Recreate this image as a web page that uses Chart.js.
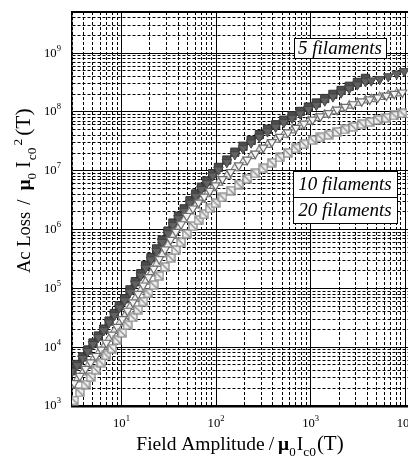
<!DOCTYPE html>
<html lang="en">
<head>
<meta charset="UTF-8" />
<title>Ac Loss vs Field Amplitude</title>
<script src="https://cdn.jsdelivr.net/npm/chart.js"></script>
<style>
  html, body { margin: 0; padding: 0; background: #fff; }
  canvas { display: block; }
</style>
</head>
<body>
<canvas id="lossChart" width="408" height="457"></canvas>
<script>
  // 5 filaments: field amplitude (squares use the first part, triangles run to the end)
  const field5 = [3.0, 3.4, 3.9, 4.4, 5.0, 5.7, 6.5, 7.4, 8.4, 9.5, 10.8, 12.3, 14, 16, 18, 20.5, 23.5, 27, 31, 35,
    40, 46, 53, 61, 70, 80, 92, 106, 130, 158, 193, 235, 287, 350, 427, 521, 636, 776, 946, 1150,
    1410, 1720, 2100, 2560, 3120, 3800, 4370, 5370, 6610, 8130, 9770];
  const loss5Sq = [3.98e3, 5.09e3, 6.84e3, 8.97e3, 1.18e4, 1.55e4, 2.03e4, 2.78e4, 3.74e4, 5.05e4, 6.68e4, 9.44e4,
    1.30e5, 1.78e5, 2.43e5, 3.33e5, 4.69e5, 6.64e5, 9.42e5, 1.29e6, 1.69e6, 2.25e6, 3.09e6, 4.03e6, 5.26e6, 6.71e6,
    8.95e6, 1.14e7, 1.52e7, 2.07e7, 2.61e7, 3.28e7, 4.11e7, 5.06e7, 6.05e7, 7.24e7, 8.59e7, 1.02e8, 1.21e8, 1.42e8,
    1.69e8, 1.99e8, 2.32e8, 2.73e8, 3.18e8, 3.72e8];
  const loss5Tri = [3.9e3, 4.9e3, 6.5e3, 8.5e3, 1.12e4, 1.47e4, 1.92e4, 2.62e4, 3.5e4, 4.7e4, 6.2e4, 8.7e4, 1.2e5,
    1.64e5, 2.24e5, 3.06e5, 4.3e5, 6.1e5, 8.6e5, 1.18e6, 1.55e6, 2.06e6, 2.83e6, 3.7e6, 4.82e6, 6.15e6, 8.2e6,
    1.04e7, 1.39e7, 1.89e7, 2.39e7, 3.0e7, 3.76e7, 4.63e7, 5.54e7, 6.63e7, 7.86e7, 9.33e7, 1.11e8, 1.3e8, 1.55e8,
    1.82e8, 2.12e8, 2.5e8, 2.91e8, 3.3e8, 3.4e8, 3.6e8, 4.0e8, 4.45e8, 4.9e8];
  // 10 filaments, second marker set (up triangles) read at the field5 steps
  const loss10Up = [2.24e3, 2.82e3, 3.72e3, 4.79e3, 6.17e3, 7.94e3, 1.02e4, 1.39e4, 1.88e4, 2.53e4, 3.37e4, 4.83e4,
    6.71e4, 9.33e4, 1.30e5, 1.80e5, 2.60e5, 3.79e5, 5.53e5, 7.80e5, 1.05e6, 1.45e6, 2.03e6, 2.56e6, 3.22e6, 3.98e6,
    5.06e6, 6.24e6, 8.20e6, 1.10e7, 1.40e7, 1.77e7, 2.25e7, 2.75e7, 3.37e7, 4.09e7, 4.86e7, 5.86e7, 6.85e7, 7.87e7,
    8.99e7, 1.02e8, 1.15e8, 1.28e8, 1.43e8, 1.57e8, 1.65e8, 1.79e8, 1.93e8, 2.07e8];

  // 10 and 20 filaments share the same field steps
  const field10_20 = [3.16, 3.63, 4.17, 4.73, 5.37, 6.10, 6.92, 7.94, 9.02, 10.2, 11.6, 13.2, 15.0, 17.0, 19.3,
    21.9, 25.1, 28.8, 33.1, 37.6, 42.7, 49.0, 56.9, 65.3, 75.0, 86.1, 98.9, 117, 143, 174, 214, 260, 316, 389,
    473, 575, 700, 851, 1047, 1270, 1550, 1905, 2320, 2820, 3470, 4220, 5130, 6310, 7670, 9330];
  const loss10 = [2.45e3, 3.24e3, 4.27e3, 5.50e3, 7.08e3, 9.12e3, 1.19e4, 1.64e4, 2.21e4, 2.99e4, 4.16e4, 5.78e4,
    8.04e4, 1.12e5, 1.55e5, 2.16e5, 3.14e5, 4.58e5, 6.68e5, 9.16e5, 1.23e6, 1.70e6, 2.28e6, 2.88e6, 3.62e6, 4.53e6,
    5.65e6, 7.21e6, 9.48e6, 1.23e7, 1.54e7, 1.96e7, 2.47e7, 3.07e7, 3.76e7, 4.48e7, 5.35e7, 6.31e7, 7.41e7, 8.40e7,
    9.53e7, 1.09e8, 1.22e8, 1.35e8, 1.51e8, 1.63e8, 1.76e8, 1.90e8, 2.03e8, 2.14e8];
  const loss20 = [1.24e3, 1.70e3, 2.32e3, 3.10e3, 4.12e3, 5.48e3, 7.28e3, 9.42e3, 1.32e4, 1.75e4, 2.37e4, 3.21e4,
    4.34e4, 5.98e4, 8.24e4, 1.14e5, 1.62e5, 2.32e5, 3.30e5, 4.48e5, 6.07e5, 8.47e5, 1.14e6, 1.44e6, 1.82e6, 2.29e6,
    2.80e6, 3.52e6, 4.57e6, 5.81e6, 7.28e6, 9.02e6, 1.10e7, 1.37e7, 1.68e7, 2.00e7, 2.39e7, 2.82e7, 3.31e7, 3.68e7,
    4.08e7, 4.57e7, 5.04e7, 5.56e7, 6.17e7, 6.71e7, 7.31e7, 7.94e7, 8.71e7, 9.46e7];

  // axes: decades + 1..9 minor steps
  const xDecades = [1, 10, 100, 1000, 10000];
  const yDecades = [1e3, 1e4, 1e5, 1e6, 1e7, 1e8, 1e9];
  const minorSteps = [1, 2, 3, 4, 5, 6, 7, 8, 9];

  const serif = '"Liberation Serif", "Times New Roman", serif';

  const isMajor = v => {
    if (!v) return false;
    const e = Math.round(Math.log10(v));
    return Math.abs(v - Math.pow(10, e)) < v * 1e-6;
  };

  const xTicks = xDecades.flatMap(d => minorSteps.map(s => s * d)).filter(v => v >= 3 && v <= 10700);
  const yTicks = yDecades.flatMap(d => minorSteps.map(s => s * d)).filter(v => v >= 1e3 && v <= 5e9);

  const pts = (xs, ys) => ys.map((y, i) => ({ x: xs[i], y }));

  // square with a diagonal for the 20 filament run
  const slashedSquare = (() => {
    const c = document.createElement('canvas');
    c.width = 10; c.height = 10;
    const g = c.getContext('2d');
    g.fillStyle = '#f0f0f0';
    g.fillRect(1, 1, 8, 8);
    g.strokeStyle = '#8a8a8a';
    g.lineWidth = 1.3;
    g.strokeRect(1, 1, 8, 8);
    g.beginPath(); g.moveTo(1.5, 1.5); g.lineTo(8.5, 8.5); g.stroke();
    return c;
  })();

  // title pieces: [text, style, size, gap before]; s = subscript, p = superscript, b = bold
  const yTitle = [['Ac Loss', 'n', 18.5, 0], ['/', 'n', 19, 7], ['μ', 'b', 19.5, 9], ['0', 's', 13, 0],
    ['I', 'n', 20, 5], ['c0', 's', 13.5, 1], ['2', 'p', 13.5, 2], ['(T)', 'n', 21.5, 3]];
  const xTitle = [['Field Amplitude', 'n', 19.5, 0], ['/', 'n', 19.5, 4], ['μ', 'b', 19.5, 4], ['0', 's', 13, 0],
    ['I', 'n', 19.5, 1], ['c0', 's', 13.5, 0], ['(T)', 'n', 21, 1]];

  const partFont = (st, size) => `${st === 'b' ? 'bold ' : ''}${size}px ${serif}`;
  const richWidth = (ctx, parts) => parts.reduce((w, [t, st, size, gap]) => {
    ctx.font = partFont(st, size);
    return w + gap + ctx.measureText(t).width;
  }, 0);
  const drawRich = (ctx, parts, x, y) => {
    let cx = x;
    parts.forEach(([t, st, size, gap]) => {
      ctx.font = partFont(st, size);
      cx += gap;
      const dy = st === 's' ? 5.5 : st === 'p' ? -8 : 0;
      ctx.fillText(t, cx, y + dy);
      cx += ctx.measureText(t).width;
    });
  };

  const labelBox = (ctx, text, x, y, w, h) => {
    ctx.fillStyle = '#fff';
    ctx.fillRect(x, y, w, h);
    ctx.strokeStyle = '#000';
    ctx.lineWidth = 1;
    ctx.strokeRect(x + 0.5, y + 0.5, w, h);
    ctx.fillStyle = '#000';
    ctx.font = `italic 19px ${serif}`;
    ctx.textAlign = 'center';
    ctx.textBaseline = 'middle';
    ctx.fillText(text, x + w / 2, y + h / 2 + 1);
  };

  // "10" with a raised exponent, drawn at a decade
  const powerLabel = (ctx, exp, x, y, align) => {
    ctx.font = `12.7px ${serif}`;
    const wBase = ctx.measureText('10').width;
    ctx.font = `8.6px ${serif}`;
    const wExp = ctx.measureText(String(exp)).width;
    const left = align === 'right' ? x - wBase - wExp : x - (wBase + wExp) / 2;
    ctx.textAlign = 'left';
    ctx.textBaseline = 'alphabetic';
    ctx.font = `12.7px ${serif}`;
    ctx.fillText('10', left, y);
    ctx.font = `8.6px ${serif}`;
    ctx.fillText(String(exp), left + wBase, y - 6);
  };

  const decorations = {
    id: 'decorations',
    afterDraw(chart) {
      const { ctx, chartArea, scales } = chart;
      ctx.save();
      // top frame line
      ctx.strokeStyle = '#000';
      ctx.lineWidth = 2;
      ctx.beginPath();
      ctx.moveTo(chartArea.left, chartArea.top);
      ctx.lineTo(chartArea.right, chartArea.top);
      ctx.stroke();

      ctx.fillStyle = '#000';
      yDecades.forEach(d => {
        powerLabel(ctx, Math.round(Math.log10(d)), 61, scales.y.getPixelForValue(d) + 3.4, 'right');
      });
      xDecades.filter(d => d >= 3).forEach(d => {
        powerLabel(ctx, Math.round(Math.log10(d)), scales.x.getPixelForValue(d), 427, 'center');
      });

      labelBox(ctx, '5 filaments', 294, 38, 92, 20);
      labelBox(ctx, '10 filaments', 293, 171, 104, 26);
      labelBox(ctx, '20 filaments', 293, 197, 104, 26);

      ctx.fillStyle = '#000';
      ctx.textAlign = 'left';
      ctx.textBaseline = 'alphabetic';
      const xw = richWidth(ctx, xTitle);
      drawRich(ctx, xTitle, (chartArea.left + chartArea.right) / 2 - xw / 2, 450);

      ctx.translate(30, 273);
      ctx.rotate(-Math.PI / 2);
      drawRich(ctx, yTitle, 0, 0);
      ctx.restore();
    }
  };

  const gridDash = ctx => (ctx.tick && isMajor(ctx.tick.value)) ? [] : [3, 2];

  new Chart(document.getElementById('lossChart'), {
    type: 'scatter',
    data: {
      datasets: [
        {
          label: '20 filaments',
          data: pts(field10_20, loss20),
          pointStyle: slashedSquare,
          pointRadius: 5
        },
        {
          label: '10 filaments',
          data: pts(field10_20, loss10),
          pointStyle: 'triangle',
          rotation: 180,
          pointRadius: 5,
          backgroundColor: '#f4f4f4',
          borderColor: '#6e6e6e',
          borderWidth: 1.2
        },
        {
          label: '10 filaments (up)',
          data: pts(field5, loss10Up),
          pointStyle: 'triangle',
          pointRadius: 5,
          backgroundColor: '#ececec',
          borderColor: '#7a7a7a',
          borderWidth: 1.1
        },
        {
          label: '5 filaments (triangles)',
          data: pts(field5, loss5Tri),
          pointStyle: 'triangle',
          rotation: 180,
          pointRadius: 5.5,
          backgroundColor: '#626262',
          borderColor: '#444',
          borderWidth: 1
        },
        {
          label: '5 filaments',
          data: pts(field5, loss5Sq),
          pointStyle: 'rect',
          pointRadius: 5.8,
          backgroundColor: '#4c4c4c',
          borderColor: '#333',
          borderWidth: 1
        }
      ]
    },
    options: {
      responsive: false,
      animation: false,
      layout: { autoPadding: false, padding: { top: 12, right: 0, left: 0, bottom: 0 } },
      plugins: { legend: { display: false }, tooltip: { enabled: false } },
      scales: {
        x: {
          type: 'logarithmic',
          min: 3,
          max: 10700,
          afterBuildTicks: s => { s.ticks = xTicks.map(v => ({ value: v })); },
          afterFit: s => { s.height = 51; s.paddingLeft = 0; s.paddingRight = 0; },
          grid: { color: '#000', lineWidth: 1, drawTicks: false },
          border: { display: true, color: '#000', width: 2.5, dash: gridDash },
          ticks: { display: false, autoSkip: false }
        },
        y: {
          type: 'logarithmic',
          min: 1e3,
          max: 5e9,
          afterBuildTicks: s => { s.ticks = yTicks.map(v => ({ value: v })); },
          afterFit: s => { s.width = 72; s.paddingTop = 0; s.paddingBottom = 0; },
          grid: { color: '#000', lineWidth: 1, drawTicks: false },
          border: { display: true, color: '#000', width: 1.5, dash: gridDash },
          ticks: { display: false, autoSkip: false }
        }
      }
    },
    plugins: [decorations]
  });
</script>
</body>
</html>
